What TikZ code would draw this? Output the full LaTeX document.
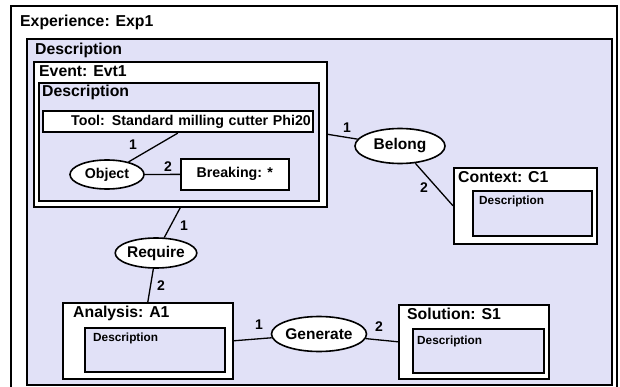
\documentclass[tikz,border=0pt]{standalone}
\usepackage{fontspec}
\setmainfont{Liberation Sans}
\usetikzlibrary{shapes.geometric}
\definecolor{descblue}{RGB}{225,225,247}

\begin{document}
\begin{tikzpicture}[x=1pt,y=-1pt,
  frame/.style={draw=black, line width=1.6pt, rectangle, inner sep=0pt, anchor=north west},
  whitebox/.style={frame, fill=white},
  bluebox/.style={frame, fill=descblue},
  rel/.style={ellipse, draw=black, line width=1.6pt, fill=white, inner sep=0pt,
    font=\bfseries\fontsize{15.5}{15.5}\selectfont},
  head/.style={anchor=base west, inner sep=0pt, font=\bfseries\fontsize{15.8}{16}\selectfont},
  small/.style={anchor=base west, inner sep=0pt, font=\bfseries\fontsize{11.8}{12}\selectfont},
  num/.style={inner sep=0pt, font=\bfseries\fontsize{14}{14}\selectfont},
  link/.style={line width=1.3pt},
]
\fill[white] (0,0) rectangle (620,387);
\clip (0,0) rectangle (620,387);

% experience frame and its description
\node[whitebox, minimum width=606pt, minimum height=400pt] (exp) at (10,5) {};
\node[head] (exph) at (20,26.5) {Experience: Exp1};
\node[bluebox, minimum width=585pt, minimum height=346pt] (desc) at (26,38) {};
\node[head] (desch) at (35,55) {Description};

% event with its own description
\node[whitebox, minimum width=293pt, minimum height=145pt] (ev) at (33,61) {};
\node[head] (evh) at (39,77) {Event: Evt1};
\node[bluebox, minimum width=280pt, minimum height=118pt] (evd) at (38,82) {};
\node[head] (evdh) at (42,96.5) {Description};
\node[whitebox, minimum width=270pt, minimum height=21pt, text width=266pt, align=right,
  font=\bfseries\fontsize{14.2}{14.2}\selectfont] (tool) at (42,110.5) {Tool: Standard milling cutter Phi20};
\node[whitebox, minimum width=108pt, minimum height=31pt,
  font=\bfseries\fontsize{14.2}{14.2}\selectfont] (brk) at (180,158) {Breaking: *};
\node[rel, minimum width=74pt, minimum height=29pt,
  font=\bfseries\fontsize{14.2}{14.2}\selectfont] (obj) at (107,174.5) {Object};

% context
\node[whitebox, minimum width=143pt, minimum height=76pt] (ctx) at (453,167) {};
\node[head] (ctxh) at (458,183) {Context: C1};
\node[bluebox, minimum width=119pt, minimum height=45pt] (ctxd) at (472,190) {};
\node[small] (ctxdh) at (479,204.5) {Description};

% analysis
\node[whitebox, minimum width=170pt, minimum height=76pt] (ana) at (62,302) {};
\node[head] (anah) at (73,317) {Analysis: A1};
\node[bluebox, minimum width=140pt, minimum height=44pt] (anad) at (84,327) {};
\node[small] (anadh) at (93,341) {Description};

% solution
\node[whitebox, minimum width=150pt, minimum height=74pt] (sol) at (398,304) {};
\node[head] (solh) at (407,319) {Solution: S1};
\node[bluebox, minimum width=131pt, minimum height=44pt] (sold) at (412,328) {};
\node[small] (soldh) at (417,344) {Description};

% relations
\node[rel, minimum width=90pt, minimum height=35pt] (bel) at (400,146) {Belong};
\node[rel, minimum width=80pt, minimum height=30pt] (req) at (156,253) {Require};
\node[rel, minimum width=87pt, minimum height=35pt] (gen) at (319,334) {Generate};

% connectors
\draw[link] (tool.south) -- (obj);
\draw[link] (obj) -- (brk);
\draw[link] (ev.east) -- (bel);
\draw[link] (bel) -- (ctx.west);
\draw[link] (ev.south) -- (req);
\draw[link] (req) -- (ana.north);
\draw[link] (ana.east) -- (gen);
\draw[link] (gen) -- (sol.west);

% role numbers
\node[num] (n1) at (133,145) {1};
\node[num] (n2) at (168,167) {2};
\node[num] (n3) at (347,128) {1};
\node[num] (n4) at (424,188) {2};
\node[num] (n5) at (184,226) {1};
\node[num] (n6) at (161,286) {2};
\node[num] (n7) at (259,325) {1};
\node[num] (n8) at (379,327) {2};
\end{tikzpicture}
\end{document}
